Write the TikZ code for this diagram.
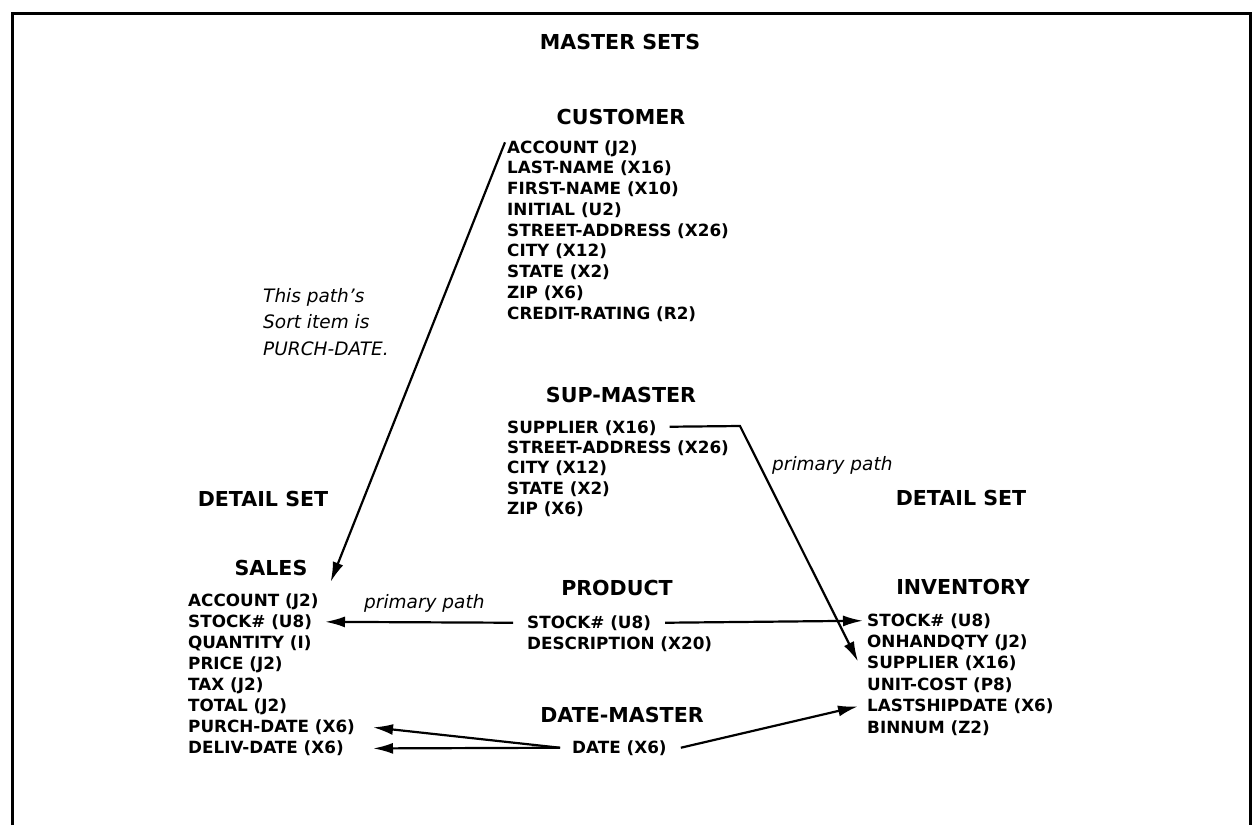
\documentclass[tikz,border=0pt]{standalone}
\usepackage{fontspec}
\setmainfont{DejaVu Sans}
\usetikzlibrary{arrows.meta,calc}
\begin{document}
\begin{tikzpicture}[x=1pt,y=-1pt,
  ttl/.style={anchor=base,inner sep=0pt,font=\fontsize{20.6}{24}\selectfont\bfseries},
  itm/.style={anchor=base west,inner sep=0pt,font=\fontsize{16.8}{20}\selectfont\bfseries},
  note/.style={anchor=base west,inner sep=0pt,font=\fontsize{18.5}{22}\selectfont\itshape},
  conn/.style={line width=2.2pt,-{Latex[length=20pt,width=11pt]}}]
\useasboundingbox (0,0) rectangle (1253,825);
% frame (open at bottom)
\draw[line width=3pt] (12,825) -- (12,13) -- (1250,13) -- (1250,825);

% titles
\node[ttl] (master) at (620,49.5) {MASTER SETS};
\node[ttl] (customer) at (621,124.5) {CUSTOMER};
\node[ttl] (supmaster) at (621,402.5) {SUP-MASTER};
\node[ttl] (detailL) at (263,506.5) {DETAIL SET};
\node[ttl] (detailR) at (961,505.5) {DETAIL SET};
\node[ttl] (sales) at (271,575.5) {SALES};
\node[ttl] (product) at (617,595) {PRODUCT};
\node[ttl] (inventory) at (963,594.5) {INVENTORY};
\node[ttl] (datemaster) at (622,722.5) {DATE-MASTER};

% lists
\foreach \t [count=\i] in {ACCOUNT (J2),LAST-NAME (X16),FIRST-NAME (X10),INITIAL (U2),STREET-ADDRESS (X26),CITY (X12),STATE (X2),ZIP (X6),CREDIT-RATING (R2)}
  \node[itm] (cust\i) at (507,{153+20.75*(\i-1)}) {\t};
\foreach \t [count=\i] in {SUPPLIER (X16),STREET-ADDRESS (X26),CITY (X12),STATE (X2),ZIP (X6)}
  \node[itm] (sup\i) at (507,{433+20.4*(\i-1)}) {\t};
\foreach \t [count=\i] in {ACCOUNT (J2),STOCK\# (U8),QUANTITY (I),PRICE (J2),TAX (J2),TOTAL (J2),PURCH-DATE (X6),DELIV-DATE (X6)}
  \node[itm] (sale\i) at (188,{606+21.1*(\i-1)}) {\t};
\foreach \t [count=\i] in {STOCK\# (U8),DESCRIPTION (X20)}
  \node[itm] (prod\i) at (527,{628+21*(\i-1)}) {\t};
\foreach \t [count=\i] in {STOCK\# (U8),ONHANDQTY (J2),SUPPLIER (X16),UNIT-COST (P8),LASTSHIPDATE (X6),BINNUM (Z2)}
  \node[itm] (inv\i) at (867,{626+21.4*(\i-1)}) {\t};
\node[itm] (date) at (572,753) {DATE (X6)};

% notes
\node[note] (note1) at (263,302) {This path’s};
\node[note] (note2) at (263,328) {Sort item is};
\node[note] (note3) at (263,355) {PURCH-DATE.};
\node[note] (ppL) at (364,608) {primary path};
\node[note] (ppR) at (772,470) {primary path};

% connectors
\coordinate (ltip) at (373,0);
\coordinate (stip) at (325,0);
\coordinate (bend) at (740,426);
\draw[conn] ($(cust1.west)+(-2,-6)$) -- ($(sales.east)+(23,14)$);
\draw[conn] ($(prod1.west)+(-14,0)$) -- (stip |- sale2.east);
\draw[conn] ($(prod1.east)+(14,0)$) -- ($(inv1.west)+(-4,0)$);
\draw[conn] ($(sup1.east)+(13,-1)$) -- (bend) -- ($(inv3.west)+(-9,-2)$);
\draw[conn] ($(date.west)+(-12,0)$) -- (ltip |- sale7.east);
\draw[conn] ($(date.west)+(-12,0)$) -- (ltip |- sale8.east);
\draw[conn] ($(date.east)+(14,0)$) -- ($(inv5.west)+(-9,0)$);
\end{tikzpicture}
\end{document}
